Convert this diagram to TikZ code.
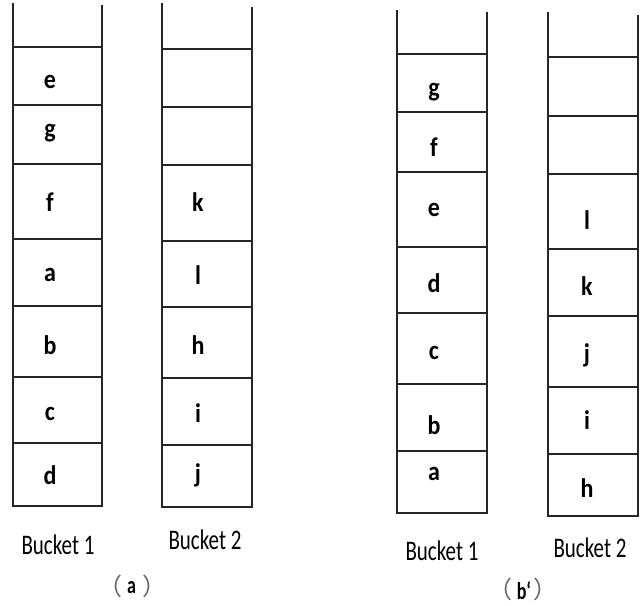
\documentclass[tikz,border=0pt]{standalone}
\usepackage{fontspec}
\setmainfont{Carlito}
\newfontfamily\cjk{Noto Sans CJK SC}
\newcommand\celltext[1]{\scalebox{1}[1.12]{#1}}
\begin{document}
\begin{tikzpicture}[x=1pt,y=-1pt,
  bucketline/.style={draw=black!85, line width=1.2pt},
  cell/.style={inner sep=0pt, font=\bfseries\fontsize{24}{24}\selectfont},
  caption/.style={inner sep=0pt, font=\fontsize{21}{21}\selectfont},
  sub/.style={inner sep=0pt, font=\bfseries\fontsize{18}{18}\selectfont},
  paren/.style={inner sep=0pt, text=black!60, font=\cjk\fontsize{24}{24}\selectfont}]
\useasboundingbox (0,0) rectangle (642,605);
% panel (a) bucket 1
\draw[bucketline] (13,3) -- (13,506) -- (102,506) -- (102,5);
\foreach \y in {47,105,164,239,306,377,443} \draw[bucketline] (13,\y) -- (102,\y);
% panel (a) bucket 2
\draw[bucketline] (162,3) -- (162,507) -- (252,507) -- (252,7);
\foreach \y in {49,107,165,241,307,378,445} \draw[bucketline] (162,\y) -- (252,\y);
% panel (b) bucket 1
\draw[bucketline] (397,10) -- (397,513) -- (487,513) -- (487,12);
\foreach \y in {54,112,172,247,313,384,451} \draw[bucketline] (397,\y) -- (487,\y);
% panel (b) bucket 2
\draw[bucketline] (548,12) -- (548,516) -- (638,516) -- (638,15);
\foreach \y in {57,116,174,249,316,387,454} \draw[bucketline] (548,\y) -- (638,\y);
% labels (a) bucket 1
\node[cell] (ae) at (50,82) {\celltext{e}};
\node[cell] (ag) at (50,133) {\celltext{g}};
\node[cell] (af) at (50,202) {\celltext{f}};
\node[cell] (aa) at (50,275) {\celltext{a}};
\node[cell] (ab) at (50,345) {\celltext{b}};
\node[cell] (ac) at (50,414) {\celltext{c}};
\node[cell] (ad) at (50,475) {\celltext{d}};
% labels (a) bucket 2
\node[cell] (ak) at (198,202) {\celltext{k}};
\node[cell] (al) at (198,275) {\celltext{l}};
\node[cell] (ah) at (198,345) {\celltext{h}};
\node[cell] (ai) at (198,413) {\celltext{i}};
\node[cell] (aj) at (198,475) {\celltext{j}};
% labels (b) bucket 1
\node[cell] (bg) at (434,92) {\celltext{g}};
\node[cell] (bf) at (434,147) {\celltext{f}};
\node[cell] (be) at (434,210) {\celltext{e}};
\node[cell] (bd) at (434,283) {\celltext{d}};
\node[cell] (bc) at (434,353) {\celltext{c}};
\node[cell] (bb) at (434,425) {\celltext{b}};
\node[cell] (ba) at (434,474) {\celltext{a}};
% labels (b) bucket 2
\node[cell] (bl) at (587,220) {\celltext{l}};
\node[cell] (bk) at (587,286) {\celltext{k}};
\node[cell] (bj) at (587,355) {\celltext{j}};
\node[cell] (bi) at (587,420) {\celltext{i}};
\node[cell] (bh) at (587,488) {\celltext{h}};
% captions
\node[caption] (cap1a) at (58,545) {\scalebox{1}[1.35]{Bucket 1}};
\node[caption] (cap2a) at (205,540) {\scalebox{1}[1.35]{Bucket 2}};
\node[caption] (cap1b) at (442,551) {\scalebox{1}[1.35]{Bucket 1}};
\node[caption] (cap2b) at (590,548) {\scalebox{1}[1.35]{Bucket 2}};
% sub-captions
\node[paren] (sublpa) at (110,586) {（};
\node[sub] (suba) at (131.5,588) {\scalebox{1}[1.35]{a}};
\node[paren] (subrpa) at (154,586) {）};
\node[paren] (sublpb) at (500,589) {（};
\node[sub] (subb) at (524,591) {\scalebox{1}[1.35]{b\char96}};
\node[paren] (subrpb) at (545,589) {）};
\end{tikzpicture}
\end{document}
